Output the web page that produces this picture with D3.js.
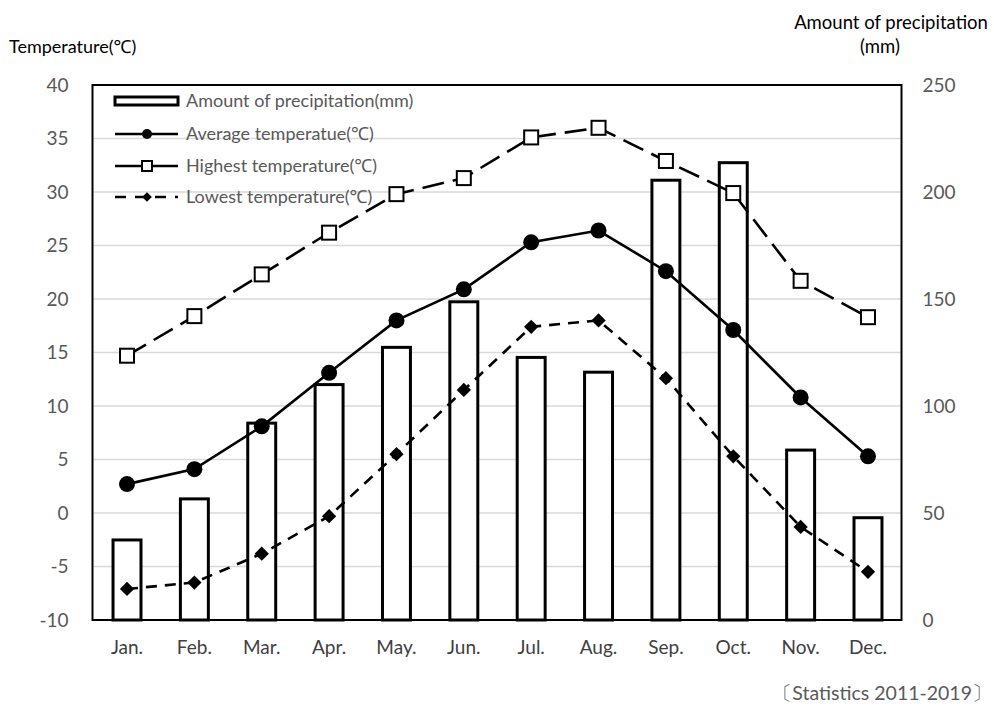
<!doctype html>
<html lang="en">
<head>
  <script src="https://cdnjs.cloudflare.com/ajax/libs/d3/7.8.5/d3.min.js"></script>
  <style type="text/css">
    body {
      margin: 0;
      padding: 0;
      background: #fff;
    }
    #canvas {
      display: block;
    }
    text {
      font-family: Lato, "Noto Sans", sans-serif;
    }
  </style>
</head>
<body>
<svg id="canvas" width="994" height="707"></svg>
<script>

var months = ['Jan.', 'Feb.', 'Mar.', 'Apr.', 'May.', 'Jun.', 'Jul.', 'Aug.', 'Sep.', 'Oct.', 'Nov.', 'Dec.'];
var precipitation = [37.4, 56.6, 92, 110, 127.4, 148.7, 122.7, 115.8, 205.5, 213.7, 79.4, 47.8];
var avgTemp = [2.7, 4.1, 8.1, 13.1, 18.0, 20.9, 25.3, 26.4, 22.6, 17.1, 10.8, 5.3];
var highTemp = [14.7, 18.4, 22.3, 26.2, 29.8, 31.3, 35.1, 36.0, 32.9, 29.9, 21.7, 18.3];
var lowTemp = [-7.1, -6.5, -3.8, -0.3, 5.5, 11.5, 17.4, 18.0, 12.6, 5.3, -1.3, -5.5];
var tempTicks = [-10, -5, 0, 5, 10, 15, 20, 25, 30, 35, 40];
var precipTicks = [0, 50, 100, 150, 200, 250];

function draw() {
  var plotLeft = 93.5, plotRight = 901.5, plotTop = 85, plotBottom = 620;

  var svg = d3.select('#canvas');

  var x = d3.scaleBand().domain(months).range([plotLeft, plotRight]).paddingInner(0.585).paddingOuter(0.29);
  var xc = function(i) { return x(months[i]) + x.bandwidth() / 2; };
  var yT = d3.scaleLinear().domain([-10, 40]).range([plotBottom, plotTop]);
  var yP = d3.scaleLinear().domain([0, 250]).range([plotBottom, plotTop]);

  // gridlines
  svg.append('g').selectAll('line').data(tempTicks.slice(1, -1)).enter().append('line')
    .attr('x1', plotLeft).attr('x2', plotRight)
    .attr('y1', function(d) { return yT(d); })
    .attr('y2', function(d) { return yT(d); })
    .attr('stroke', '#d9d9d9')
    .attr('stroke-width', 1.5);

  // axes (text only)
  var leftAxis = svg.append('g')
    .attr('transform', 'translate(' + (plotLeft - 25) + ',0)')
    .call(d3.axisLeft(yT).tickValues(tempTicks).tickFormat(String).tickSize(0).tickPadding(0));
  var rightAxis = svg.append('g')
    .attr('transform', 'translate(' + (plotRight + 21) + ',0)')
    .call(d3.axisRight(yP).tickValues(precipTicks).tickFormat(String).tickSize(0).tickPadding(0));
  var bottomAxis = svg.append('g')
    .attr('transform', 'translate(0,' + (plotBottom + 21) + ')')
    .call(d3.axisBottom(x).tickSize(0).tickPadding(0));

  [leftAxis, rightAxis].forEach(function(a) {
    a.select('.domain').remove();
    a.selectAll('text').style('font-size', '19px').attr('fill', '#595959')
      .style('font-family', 'Lato, "Noto Sans", sans-serif');
  });
  bottomAxis.select('.domain').remove();
  bottomAxis.selectAll('text').style('font-size', '19px').attr('fill', '#404040')
    .attr('dy', '0.7em')
    .style('font-family', 'Lato, "Noto Sans", sans-serif');

  // bars
  svg.append('g').selectAll('rect').data(precipitation).enter().append('rect')
    .attr('x', function(d, i) { return x(months[i]); })
    .attr('y', function(d) { return yP(d); })
    .attr('width', x.bandwidth())
    .attr('height', function(d) { return yP(0) - yP(d); })
    .attr('fill', '#fff')
    .attr('stroke', '#000')
    .attr('stroke-width', 3);

  // frame
  svg.append('rect')
    .attr('x', plotLeft - 1).attr('y', plotTop)
    .attr('width', plotRight - plotLeft + 1).attr('height', plotBottom - plotTop)
    .attr('fill', 'none')
    .attr('stroke', '#000')
    .attr('stroke-width', 2);

  var line = d3.line().x(function(d, i) { return xc(i); }).y(function(d) { return yT(d); });

  function series(data, dash) {
    svg.append('path')
      .datum(data)
      .attr('d', line)
      .attr('fill', 'none')
      .attr('stroke', '#000')
      .attr('stroke-width', 2.6)
      .attr('stroke-dasharray', dash);
  }
  series(highTemp, '22,9');
  series(lowTemp, '11,8');
  series(avgTemp, null);

  svg.append('g').selectAll('circle').data(avgTemp).enter().append('circle')
    .attr('cx', function(d, i) { return xc(i); })
    .attr('cy', function(d) { return yT(d); })
    .attr('r', 8)
    .attr('fill', '#000');

  svg.append('g').selectAll('rect').data(highTemp).enter().append('rect')
    .attr('x', function(d, i) { return xc(i) - 7; })
    .attr('y', function(d) { return yT(d) - 7; })
    .attr('width', 14).attr('height', 14)
    .attr('fill', '#fff')
    .attr('stroke', '#000')
    .attr('stroke-width', 2);

  svg.append('g').selectAll('path').data(lowTemp).enter().append('path')
    .attr('d', d3.symbol().type(d3.symbolDiamond2).size(130))
    .attr('transform', function(d, i) { return 'translate(' + xc(i) + ',' + yT(d) + ')'; })
    .attr('fill', '#000');

  // legend
  var lx1 = 115, lx2 = 178, lmid = 147, ltext = 186;
  var rows = [101, 134, 166, 197];
  var labels = ['Amount of precipitation(mm)', 'Average temperatue(℃)', 'Highest temperature(℃)', 'Lowest temperature(℃)'];
  var legend = svg.append('g');

  legend.append('rect')
    .attr('x', lx1).attr('y', rows[0] - 4)
    .attr('width', lx2 - lx1).attr('height', 8)
    .attr('fill', '#fff').attr('stroke', '#000').attr('stroke-width', 3);

  legend.append('line').attr('x1', lx1).attr('x2', lx2).attr('y1', rows[1]).attr('y2', rows[1])
    .attr('stroke', '#000').attr('stroke-width', 2.6);
  legend.append('circle').attr('cx', lmid).attr('cy', rows[1]).attr('r', 5).attr('fill', '#000');

  legend.append('line').attr('x1', lx1).attr('x2', lx2).attr('y1', rows[2]).attr('y2', rows[2])
    .attr('stroke', '#000').attr('stroke-width', 2.6);
  legend.append('rect').attr('x', lmid - 5).attr('y', rows[2] - 5).attr('width', 10).attr('height', 10)
    .attr('fill', '#fff').attr('stroke', '#000').attr('stroke-width', 2);

  legend.append('line').attr('x1', lx1).attr('x2', lx2).attr('y1', rows[3]).attr('y2', rows[3])
    .attr('stroke', '#000').attr('stroke-width', 2.6).attr('stroke-dasharray', '11,9');
  legend.append('path')
    .attr('d', d3.symbol().type(d3.symbolDiamond2).size(60))
    .attr('transform', 'translate(' + lmid + ',' + rows[3] + ')')
    .attr('fill', '#000');

  legend.selectAll('text.lab').data(labels).enter().append('text')
    .attr('class', 'lab')
    .attr('x', ltext)
    .attr('y', function(d, i) { return rows[i]; })
    .attr('dy', '0.35em')
    .attr('fill', '#595959')
    .style('font-size', '18px')
    .text(function(d) { return d; });

  // axis titles
  svg.append('text').attr('x', 9).attr('y', 53)
    .attr('fill', '#000').style('font-size', '18px')
    .text('Temperature(℃)');
  svg.append('text').attr('x', 891).attr('y', 29)
    .attr('text-anchor', 'middle')
    .attr('fill', '#000').style('font-size', '18.5px')
    .text('Amount of precipitation');
  svg.append('text').attr('x', 880).attr('y', 53)
    .attr('text-anchor', 'middle')
    .attr('fill', '#000').style('font-size', '18.5px')
    .text('(mm)');

  svg.append('text').attr('x', 992).attr('y', 700)
    .attr('text-anchor', 'end')
    .attr('fill', '#595959').style('font-size', '19.5px')
    .text('〔Statistics 2011-2019〕');
}

draw();
</script>
</body>
</html>
